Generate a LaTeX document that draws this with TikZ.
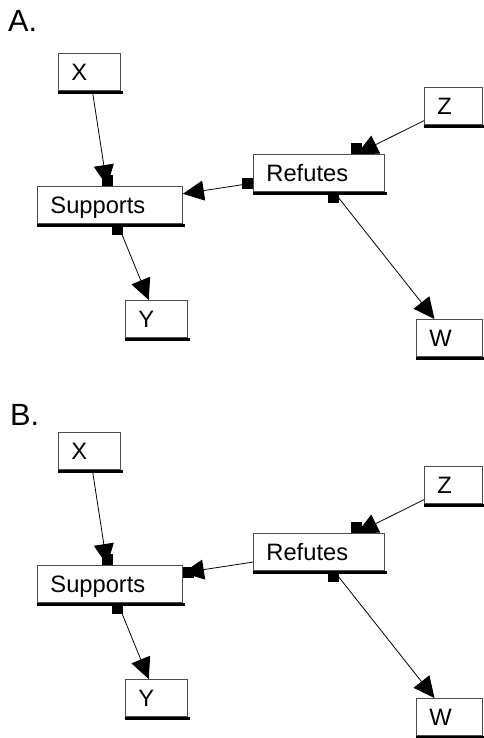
\documentclass[tikz,border=0pt]{standalone}
\usepackage{fontspec}
\setmainfont{Liberation Sans}
\usetikzlibrary{arrows.meta}
\tikzset{
  box/.style={draw=black!70, line width=0.9pt, fill=white, anchor=north west,
    inner xsep=13pt, inner ysep=0pt, align=left, minimum height=37pt,
    text height=17pt, text depth=0pt, font=\fontsize{23.7}{28}\selectfont},
  link/.style={draw, line width=0.8pt, -{Triangle[length=21pt,width=20pt]}},
  sq/.style={fill=black, inner sep=0pt, minimum size=11pt},
  shadowline/.style={line width=3pt},
  panellabel/.style={anchor=base west, inner sep=0pt, font=\fontsize{30.7}{36}\selectfont}
}
\begin{document}
\begin{tikzpicture}[x=1pt, y=-1pt]
\useasboundingbox[fill=white] (0,0) rectangle (483,738);

% Panel A
\node[panellabel] (labA) at (8,32) {A.};
\node[box, text width=36pt]  (XA)   at (58,53)   {X};
\node[box, text width=119pt] (SupA) at (37,186)  {Supports};
\node[box, text width=36pt]  (YA)   at (125,300) {Y};
\node[box, text width=32pt]  (ZA)   at (424,87)  {Z};
\node[box, text width=105pt] (RefA) at (253,154) {Refutes};
\node[box, text width=40pt]  (WA)   at (416,319) {W};

% Panel B
\node[panellabel] (labB) at (10,425) {B.};
\node[box, text width=36pt]  (XB)   at (58,432)  {X};
\node[box, text width=119pt] (SupB) at (37,565)  {Supports};
\node[box, text width=36pt]  (YB)   at (125,679) {Y};
\node[box, text width=32pt]  (ZB)   at (424,466) {Z};
\node[box, text width=105pt] (RefB) at (253,533) {Refutes};
\node[box, text width=40pt]  (WB)   at (416,698) {W};

\foreach \n in {XA,SupA,YA,ZA,RefA,WA,XB,SupB,YB,ZB,RefB,WB}
  \draw[shadowline] ([yshift=-1.5pt]\n.south west) -- ([xshift=2pt,yshift=-1.5pt]\n.south east);

% Links A
\draw[link] (XA) -- coordinate[pos=1] (pA1) (SupA);
\node[sq, anchor=south] (sqA1) at (pA1) {};
\draw[link] (SupA) -- coordinate[pos=0] (pA2) (YA);
\node[sq, anchor=north] (sqA2) at (pA2) {};
\draw[link] (RefA) -- coordinate[pos=0] (pA3) (SupA);
\node[sq, anchor=east] (sqA3) at (pA3) {};
\draw[link] (ZA) -- coordinate[pos=1] (pA4) (RefA);
\node[sq, anchor=south] (sqA4) at (pA4) {};
\draw[link] (RefA) -- coordinate[pos=0] (pA5) (WA);
\node[sq, anchor=north] (sqA5) at (pA5) {};

% Links B
\draw[link] (XB) -- coordinate[pos=1] (pB1) (SupB);
\node[sq, anchor=south] (sqB1) at (pB1) {};
\draw[link] (SupB) -- coordinate[pos=0] (pB2) (YB);
\node[sq, anchor=north] (sqB2) at (pB2) {};
\draw[link] (RefB) -- coordinate[pos=1] (pB3) (SupB);
\node[sq, anchor=west] (sqB3) at (pB3) {};
\draw[link] (ZB) -- coordinate[pos=1] (pB4) (RefB);
\node[sq, anchor=south] (sqB4) at (pB4) {};
\draw[link] (RefB) -- coordinate[pos=0] (pB5) (WB);
\node[sq, anchor=north] (sqB5) at (pB5) {};
\end{tikzpicture}
\end{document}
